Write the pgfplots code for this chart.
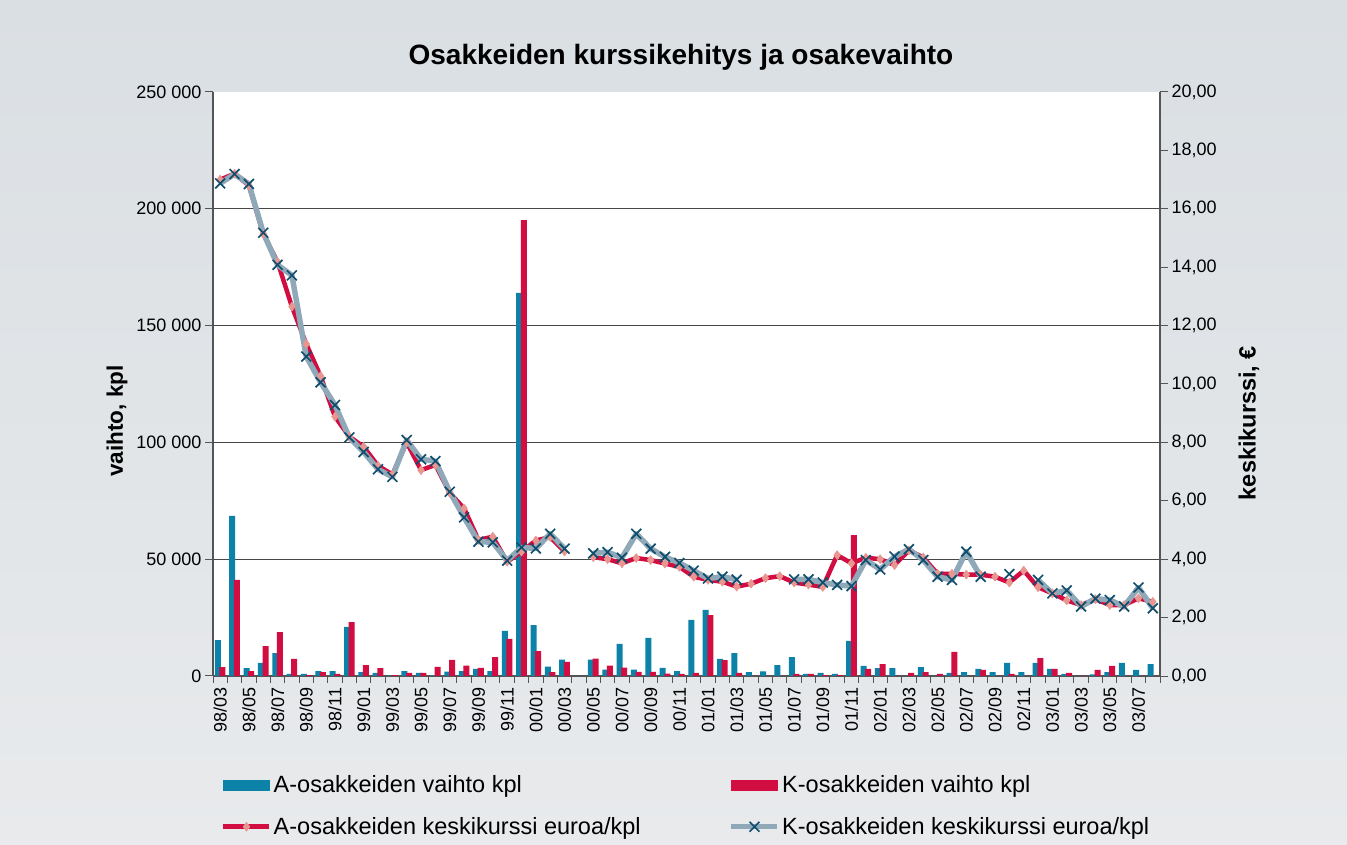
\documentclass[border=0pt]{standalone}
\usepackage{fontspec}
\setmainfont{Liberation Sans}
\usepackage{pgfplots}
\usepackage{pgfplotstable}
\pgfplotsset{compat=1.18}
\definecolor{bgtop}{HTML}{DADFE3}
\definecolor{bgbot}{HTML}{E8EAEC}
\definecolor{ablue}{HTML}{0D82A8}
\definecolor{kred}{HTML}{D10D42}
\definecolor{diam}{HTML}{E8968F}
\definecolor{kgray}{HTML}{8FA9B9}
\definecolor{xmark}{HTML}{104E6E}
\definecolor{axc}{HTML}{555555}

\pgfplotstableread{
x a k pa pk
0 15400 3850 17.00 16.87
1 68500 41100 17.20 17.19
2 3400 2100 16.80 16.85
3 5600 12800 15.14 15.18
4 9800 18800 14.18 14.08
5 900 7300 12.65 13.72
6 900 400 11.37 10.94
7 2100 1700 10.27 10.06
8 2100 900 8.88 9.28
9 21000 23100 8.20 8.17
10 1700 4700 7.85 7.67
11 1300 3400 7.20 7.08
12 300 400 6.90 6.82
13 2100 1300 8.00 8.08
14 1300 1300 7.05 7.42
15 300 3900 7.23 7.36
16 1900 6900 6.27 6.31
17 2100 4400 5.74 5.43
18 3100 3500 4.66 4.60
19 2100 8100 4.77 4.58
20 19300 15900 3.91 3.95
21 164000 195200 4.26 4.40
22 21800 10700 4.64 4.37
23 4000 1700 4.76 4.87
24 7000 6000 4.26 4.36
25 nan nan nan nan
26 7000 7400 4.07 4.20
27 2700 4400 4.00 4.24
28 13800 3600 3.86 4.05
29 2700 1800 4.04 4.87
30 16300 1800 3.97 4.36
31 3500 1000 3.85 4.08
32 2100 900 3.74 3.87
33 24000 1300 3.40 3.61
34 28300 26100 3.29 3.34
35 7300 6800 3.23 3.40
36 9800 1300 3.06 3.30
37 1700 0 3.16 nan
38 2000 0 3.35 nan
39 4700 0 3.42 nan
40 8100 900 3.20 3.31
41 900 900 3.13 3.31
42 1300 400 3.05 3.20
43 900 400 4.14 3.12
44 15000 60300 3.86 3.08
45 4300 3000 4.05 3.97
46 3400 5100 4.00 3.65
47 3400 0 3.80 4.09
48 0 1300 4.30 4.34
49 3850 1700 4.06 3.97
50 0 900 3.50 3.40
51 1300 10300 3.50 3.29
52 1700 0 3.47 4.26
53 3000 2600 3.47 3.40
54 1700 0 3.40 nan
55 5600 900 3.20 3.49
56 1700 0 3.61 nan
57 5600 7700 3.04 3.29
58 3000 3000 2.83 2.83
59 900 1300 2.59 2.93
60 0 200 2.43 2.38
61 700 2600 2.63 2.65
62 1700 4300 2.43 2.60
63 5600 0 2.43 2.38
64 2600 0 2.66 3.03
65 5100 0 2.54 2.32
}\data

\pgfplotsset{
  base/.style={
    at={(213bp,169bp)}, anchor=south west, scale only axis,
    width=947bp, height=584bp,
    xmin=-0.5, xmax=65.5,
    ticklabel style={font=\fontsize{18bp}{20bp}\selectfont},
    axis line style={draw=axc, line width=1.3bp},
    tick style={draw=axc, line width=1bp},
    tick align=outside,
    major tick length=8bp,
    minor tick length=7bp,
  },
  lineleg/.style={legend image code/.code={\draw[##1, mark repeat=2, mark phase=2] plot coordinates {(0bp,0bp) (23bp,0bp) (46bp,0bp)};}},
  barlegA/.style={legend image code/.code={\fill[ablue] (0bp,-5bp) rectangle (46bp,5bp);}},
  barlegK/.style={legend image code/.code={\fill[kred] (0bp,-5bp) rectangle (46bp,5bp);}},
}

\begin{document}
\begin{tikzpicture}
\shade[top color=bgtop, bottom color=bgbot] (0bp,0bp) rectangle (1347bp,845bp);

\begin{axis}[base,
  axis background/.style={fill=white},
  ymin=0, ymax=250000,
  axis x line*=bottom, axis y line*=left,
  ytick={0,50000,100000,150000,200000,250000},
  yticklabels={0,50 000,100 000,150 000,200 000,250 000},
  scaled y ticks=false,
  extra y ticks={50000,100000,150000,200000},
  extra y tick labels={},
  extra y tick style={grid=major, major grid style={draw=black!72, line width=1bp}, major tick style={draw=none}},
  xtick={0,2,...,64},
  xticklabels={98/03,98/05,98/07,98/09,98/11,99/01,99/03,99/05,99/07,99/09,99/11,00/01,00/03,00/05,00/07,00/09,00/11,01/01,01/03,01/05,01/07,01/09,01/11,02/01,02/03,02/05,02/07,02/09,02/11,03/01,03/03,03/05,03/07},
  x tick label style={rotate=90, anchor=east},
  major x tick style={draw=none},
  minor xtick={-0.5,0.5,...,65.5},
]
\addplot[ybar, bar width=6bp, bar shift=-2.3bp, fill=ablue, draw=none] table[x=x, y=a] {\data};
\addplot[ybar, bar width=6bp, bar shift=2.3bp, fill=kred, draw=none] table[x=x, y=k] {\data};
\end{axis}

\begin{axis}[base,
  ymin=0, ymax=20,
  axis x line=none, axis y line*=right,
  ytick={0,2,...,20},
  yticklabels={{0,00},{2,00},{4,00},{6,00},{8,00},{10,00},{12,00},{14,00},{16,00},{18,00},{20,00}},
  unbounded coords=jump,
  legend style={at={(rel axis cs:0.0053,-0.164)}, anchor=north west, draw=none, fill=none,
    font=\fontsize{23.5bp}{25bp}\selectfont, row sep=19bp,
    nodes={inner xsep=2bp},
    /tikz/every even column/.append style={column sep=86bp}},
  legend columns=2,
  legend cell align=left,
]
\addlegendimage{barlegA}
\addlegendentry{A-osakkeiden vaihto kpl}
\addlegendimage{barlegK}
\addlegendentry{K-osakkeiden vaihto kpl}
\addplot[color=kred, line width=4.5bp, line join=round, mark=diamond*, mark size=4.5bp,
  mark options={fill=diam, draw=diam, line width=0.5bp}, lineleg]
  table[x=x, y=pa] {\data};
\addlegendentry{A-osakkeiden keskikurssi euroa/kpl}
\addplot[color=kgray, line width=5.5bp, line join=round, mark=x, mark size=7bp,
  mark options={draw=xmark, line width=1.7bp}, lineleg]
  table[x=x, y=pk] {\data};
\addlegendentry{K-osakkeiden keskikurssi euroa/kpl}
\end{axis}

\node[font=\bfseries\fontsize{28bp}{30bp}\selectfont] at (681bp,788bp) {Osakkeiden kurssikehitys ja osakevaihto};
\node[font=\bfseries\fontsize{22.5bp}{24bp}\selectfont, rotate=90] at (117bp,424bp) {vaihto, kpl};
\node[font=\bfseries\fontsize{23.5bp}{25bp}\selectfont, rotate=90] at (1249bp,422bp) {keskikurssi, €};
\end{tikzpicture}
\end{document}
